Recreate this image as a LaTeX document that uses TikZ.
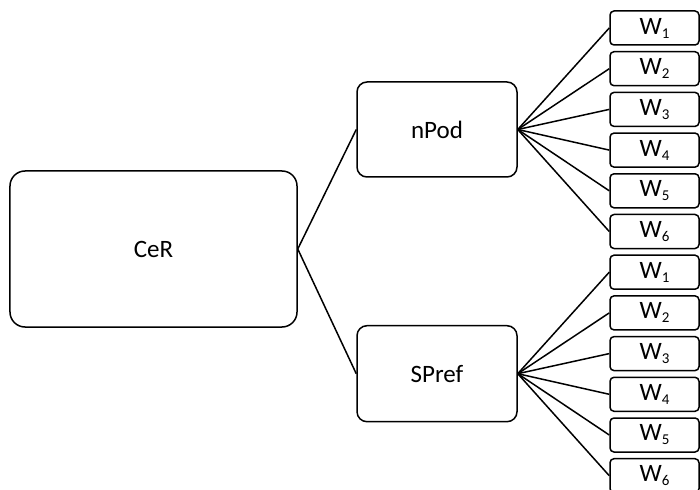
\documentclass[tikz,border=0pt]{standalone}
\usepackage{fontspec}
\setmainfont{Carlito}
\newcommand{\wsub}[1]{W\raisebox{-4bp}{\fontsize{15bp}{15bp}\selectfont #1}}
\begin{document}
\begin{tikzpicture}[x=1bp,y=-1bp,
  box/.style={draw=black, line width=1.5bp, rounded corners=10bp, inner sep=0pt, font=\fontsize{25bp}{30bp}\selectfont},
  wbox/.style={draw=black, line width=1.5bp, rounded corners=4bp, inner sep=0pt, minimum width=89bp, minimum height=34bp, font=\fontsize{25bp}{30bp}\selectfont},
  link/.style={draw=black, line width=1.5bp}]
\useasboundingbox (0,0) rectangle (700,490);
\clip (0,0) rectangle (700,490);
\node[box, rounded corners=15bp, minimum width=287bp, minimum height=156bp] (cer) at (153.5,249) {CeR};
\node[box, minimum width=160bp, minimum height=95bp] (npod) at (437,129.5) {nPod};
\node[box, minimum width=160bp, minimum height=96bp] (spref) at (437,373.7) {SPref};
\foreach \i in {1,...,6} {
  \node[wbox] (a\i) at (654.5,{28+(\i-1)*40.7}) {\wsub{\i}};
  \node[wbox] (b\i) at (654.5,{28+(\i+5)*40.7}) {\wsub{\i}};
  \draw[link] (npod.east) -- (a\i.west);
  \draw[link] (spref.east) -- (b\i.west);
}
\draw[link] (cer.east) -- (npod.west);
\draw[link] (cer.east) -- (spref.west);
\end{tikzpicture}
\end{document}
